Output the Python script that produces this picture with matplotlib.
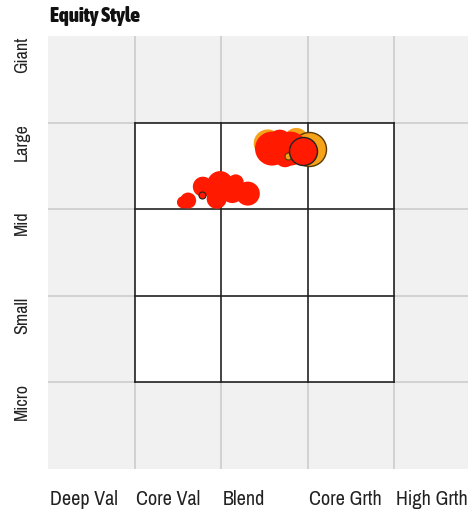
import numpy as np
import matplotlib.pyplot as plt
from matplotlib import font_manager
from matplotlib.patches import Rectangle
from matplotlib.transforms import blended_transform_factory

# style axis: 0 = deep value ... 5 = high growth; size axis: 0 = micro ... 5 = giant
style_labels = ['Deep Val', 'Core Val', 'Blend', 'Core Grth', 'High Grth']
size_labels = ['Micro', 'Small', 'Mid', 'Large', 'Giant']

# portfolio history (red) and peer group history (orange), weight = bubble radius in px
hist_style = [2.59, 2.80, 2.68, 2.74, 1.99, 1.79, 2.31, 1.62, 1.95, 2.13, 1.56, 2.17]
hist_size = [3.70, 3.70, 3.78, 3.60, 3.29, 3.26, 3.18, 3.10, 3.12, 3.21, 3.08, 3.31]
hist_weight = [17, 17, 12, 10, 13, 10, 12, 8, 10, 12, 6, 8]

peer_style = [2.54, 2.87]
peer_size = [3.76, 3.80]
peer_weight = [14, 12]

# latest points, drawn with outlines
peer_now = (3.02, 3.69, 17)
peer_small = (2.78, 3.61, 3.5)
fund_now = (2.95, 3.67, 14)
fund_small = (1.78, 3.16, 3.5)

red = '#ff1a00'
orange = '#f7a21b'


def narrow_font(bold=False):
    # prefer a condensed sans face if one is installed
    cands = []
    for f in font_manager.fontManager.ttflist:
        name = f.name.lower()
        stretch = str(f.stretch).lower()
        if 'narrow' in name or 'condensed' in name or 'condensed' in stretch:
            heavy = f.weight in ('bold', 700) or (isinstance(f.weight, int) and f.weight >= 600)
            if heavy == bold and f.style == 'normal':
                cands.append(f)
    cands.sort(key=lambda f: ('liberation' not in f.name.lower(), f.name))
    if cands:
        return font_manager.FontProperties(fname=cands[0].fname)
    return font_manager.FontProperties(family='DejaVu Sans',
                                       weight='bold' if bold else 'normal')


fig = plt.figure(figsize=(4.68, 5.10), dpi=100)
ax = fig.add_axes([48 / 468, 40 / 510, 432.5 / 468, 433 / 510])
ax.set_xlim(0, 5)
ax.set_ylim(0, 5)
ax.set_facecolor('#f1f1f1')
for s in ax.spines.values():
    s.set_visible(False)
ax.set_xticks([])
ax.set_yticks([])

for v in range(1, 5):
    ax.axvline(v, color='#cfcfcf', lw=1.3, zorder=1)
    ax.axhline(v, color='#cfcfcf', lw=1.3, zorder=1)

# 3x3 style box
ax.add_patch(Rectangle((1, 1), 3, 3, facecolor='white', edgecolor='none', zorder=2))
for v in range(1, 5):
    ax.plot([v, v], [1, 4], color='#222222', lw=1.2, zorder=3)
    ax.plot([1, 4], [v, v], color='#222222', lw=1.2, zorder=3)


def px_to_s(r):
    # radius in pixels -> scatter area in points^2
    return (2 * r * 72 / fig.dpi) ** 2


ax.scatter(peer_style, peer_size, s=[px_to_s(r) for r in peer_weight],
           color=orange, edgecolors='none', zorder=4)
ax.scatter([peer_now[0]], [peer_now[1]], s=px_to_s(peer_now[2]),
           color=orange, edgecolors='#5a3a00', linewidths=1, zorder=4)
ax.scatter(hist_style, hist_size, s=[px_to_s(r) for r in hist_weight],
           color=red, edgecolors='none', zorder=5)
ax.scatter([peer_small[0]], [peer_small[1]], s=px_to_s(peer_small[2]),
           color=orange, edgecolors='#5a3a00', linewidths=0.8, zorder=6)
ax.scatter([fund_now[0]], [fund_now[1]], s=px_to_s(fund_now[2]),
           color=red, edgecolors='#222222', linewidths=1, zorder=6)
ax.scatter([fund_small[0]], [fund_small[1]], s=px_to_s(fund_small[2]),
           color=red, edgecolors='#222222', linewidths=0.8, zorder=6)

fp = narrow_font()
fpb = narrow_font(bold=True)
tx = blended_transform_factory(ax.transData, fig.transFigure)
for i, lab in enumerate(style_labels):
    ax.text(i + 0.02, 5 / 510, lab, transform=tx, ha='left', va='baseline',
            fontproperties=fp, fontsize=14.5, color='#222222')

ty = blended_transform_factory(fig.transFigure, ax.transData)
for i, lab in enumerate(size_labels):
    ax.text(22 / 468, i + 1, lab, transform=ty, rotation=90, ha='center', va='top',
            fontproperties=fp, fontsize=13, color='#222222')

fig.text(50 / 468, 1 - 22 / 510, 'Equity Style', fontproperties=fpb, fontsize=15,
         color='#111111', ha='left', va='baseline')

fig.savefig('out.png', dpi=100)
